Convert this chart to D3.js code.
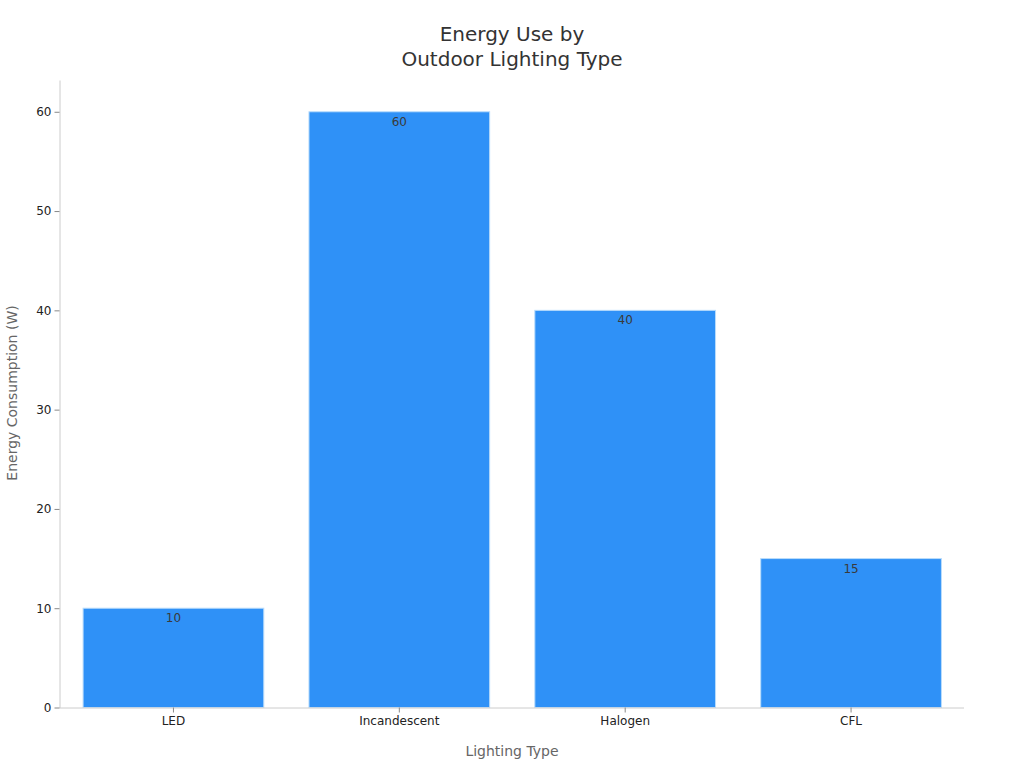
<!DOCTYPE html>
<html>
<head>
<meta charset="utf-8">
<script src="https://cdn.jsdelivr.net/npm/d3@7"></script>
<style>
  body { margin: 0; background: #fff; }
  text { font-family: "DejaVu Sans", sans-serif; }
</style>
</head>
<body>
<div id="chart"></div>
<script>
const width = 1024;
const height = 768;

// data
const categories = ['LED', 'Incandescent', 'Halogen', 'CFL'];
const values = [10, 60, 40, 15];
const yTicks = [0, 10, 20, 30, 40, 50, 60];

const margin = { left: 59.5, right: 60, top: 80, bottom: 60.5 };

const svg = d3.select("#chart").append("svg")
  .attr("width", width)
  .attr("height", height);

const x = d3.scaleBand()
  .domain(categories)
  .range([margin.left + 1, width - margin.right])
  .paddingInner(0.2)
  .paddingOuter(0.1);

const y = d3.scaleLinear()
  .domain([0, 63.2])
  .range([height - margin.bottom, margin.top]);

// bars
svg.append("g")
  .selectAll("rect")
  .data(values)
  .enter().append("rect")
  .attr("x", (d, i) => x(categories[i]))
  .attr("y", d => y(d))
  .attr("width", x.bandwidth())
  .attr("height", d => y(0) - y(d))
  .attr("fill", "#2f91f7")
  .attr("stroke", "#b9dcfb")
  .attr("stroke-width", 1);

// value labels
svg.append("g")
  .selectAll("text")
  .data(values)
  .enter().append("text")
  .attr("x", (d, i) => x(categories[i]) + x.bandwidth() / 2)
  .attr("y", d => y(d) + 14)
  .attr("text-anchor", "middle")
  .attr("font-size", 12)
  .attr("fill", "#3a3a3a")
  .text(d => d);

// x axis
const xAxis = svg.append("g")
  .attr("transform", `translate(0,${y(0)})`)
  .call(d3.axisBottom(x).tickSize(5).tickPadding(4).tickSizeOuter(0));
xAxis.select(".domain").attr("stroke", "#cccccc").attr("d", `M${margin.left},0.5H${width - margin.right}`);
xAxis.selectAll(".tick line").attr("stroke", "#888");
xAxis.selectAll(".tick text").attr("font-size", 12).attr("fill", "#222")
  .style("font-family", "DejaVu Sans");

// y axis
const yAxis = svg.append("g")
  .attr("transform", `translate(${margin.left},0)`)
  .call(d3.axisLeft(y).tickValues(yTicks).tickSize(5).tickPadding(3).tickSizeOuter(0));
yAxis.select(".domain").attr("stroke", "#cccccc");
yAxis.selectAll(".tick line").attr("stroke", "#888");
yAxis.selectAll(".tick text").attr("font-size", 12).attr("fill", "#222")
  .style("font-family", "DejaVu Sans");

// title
const title = svg.append("text")
  .attr("x", 512)
  .attr("text-anchor", "middle")
  .attr("font-size", 20)
  .attr("fill", "#333");
title.append("tspan").attr("x", 512).attr("y", 41).text("Energy Use by");
title.append("tspan").attr("x", 512).attr("y", 66).text("Outdoor Lighting Type");

// axis titles
svg.append("text")
  .attr("x", 512)
  .attr("y", 756)
  .attr("text-anchor", "middle")
  .attr("font-size", 14)
  .attr("fill", "#666")
  .text("Lighting Type");

svg.append("text")
  .attr("transform", "translate(17,393) rotate(-90)")
  .attr("text-anchor", "middle")
  .attr("font-size", 14)
  .attr("fill", "#666")
  .text("Energy Consumption (W)");
</script>
</body>
</html>
